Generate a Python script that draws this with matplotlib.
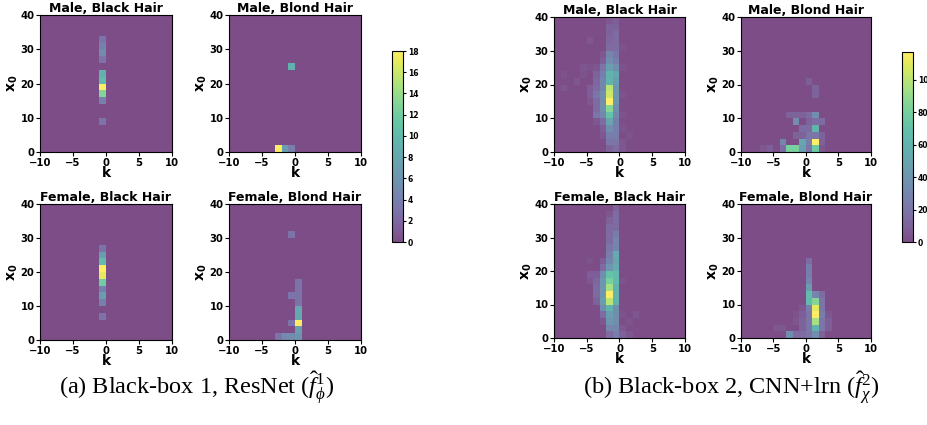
import numpy as np
import matplotlib
matplotlib.use("Agg")
import matplotlib.pyplot as plt

plt.rcParams["font.family"] = "DejaVu Sans"
plt.rcParams["font.weight"] = "bold"
plt.rcParams["axes.titleweight"] = "bold"
plt.rcParams["axes.labelweight"] = "bold"
# serif math for the captions, bold sans for the x0 label
plt.rcParams["mathtext.fontset"] = "custom"
plt.rcParams["mathtext.rm"] = "Liberation Serif:weight=normal"
plt.rcParams["mathtext.it"] = "Liberation Serif:style=italic:weight=normal"
plt.rcParams["mathtext.bf"] = "DejaVu Sans:weight=bold"

# histogram bins
k_edges = np.arange(-10, 11, 1)
x0_edges = np.arange(0, 42, 2)

# counts: key = left edge of k bin, list = counts for x0 bins 0-2, 2-4, ..., 38-40
a_male_black = {
    -1: [0, 0, 0, 0, 3, 0, 0, 4, 13, 18, 10, 9, 0, 3, 5, 4, 3, 0, 0, 0],
}
a_male_blond = {
    -3: [18, 0, 0, 0, 0, 0, 0, 0, 0, 0, 0, 0, 0, 0, 0, 0, 0, 0, 0, 0],
    -2: [7, 0, 0, 0, 0, 0, 0, 0, 0, 0, 0, 0, 0, 0, 0, 0, 0, 0, 0, 0],
    -1: [4, 0, 0, 0, 0, 0, 0, 0, 0, 0, 0, 0, 9, 0, 0, 0, 0, 0, 0, 0],
}
a_female_black = {
    -1: [0, 0, 0, 3, 0, 4, 7, 4, 12, 17, 18, 10, 7, 3, 0, 0, 0, 0, 0, 0],
}
a_female_blond = {
    -3: [3, 0, 0, 0, 0, 0, 0, 0, 0, 0, 0, 0, 0, 0, 0, 0, 0, 0, 0, 0],
    -2: [5, 0, 0, 0, 0, 0, 0, 0, 0, 0, 0, 0, 0, 0, 0, 0, 0, 0, 0, 0],
    -1: [5, 0, 3, 0, 0, 0, 3, 0, 0, 0, 0, 0, 0, 0, 0, 3, 0, 0, 0, 0],
    0: [6, 7, 18, 8, 8, 3, 3, 3, 3, 0, 0, 0, 0, 0, 0, 0, 0, 0, 0, 0],
}

b_male_black = {
    -9: [0, 0, 0, 0, 0, 0, 0, 0, 0, 5, 0, 3, 0, 0, 0, 0, 0, 0, 0, 0],
    -7: [0, 0, 0, 0, 0, 0, 0, 0, 0, 0, 5, 0, 0, 0, 0, 0, 0, 0, 0, 0],
    -6: [0, 0, 0, 0, 0, 0, 0, 0, 0, 0, 0, 3, 4, 0, 0, 0, 0, 0, 0, 0],
    -5: [0, 0, 0, 0, 0, 0, 0, 5, 8, 8, 0, 0, 3, 0, 0, 0, 5, 0, 0, 0],
    -4: [0, 0, 0, 0, 5, 20, 15, 15, 20, 15, 12, 10, 5, 0, 0, 0, 0, 0, 0, 0],
    -3: [0, 0, 5, 8, 15, 30, 35, 35, 35, 30, 30, 25, 20, 8, 5, 0, 0, 0, 0, 0],
    -2: [10, 20, 25, 35, 50, 70, 85, 117, 105, 100, 60, 60, 45, 35, 30, 15, 12, 10, 10, 5],
    -1: [15, 20, 25, 25, 25, 30, 35, 40, 40, 40, 45, 50, 35, 25, 20, 15, 15, 15, 10, 8],
    0: [5, 5, 0, 3, 0, 3, 0, 0, 3, 0, 0, 0, 3, 0, 0, 3, 0, 0, 0, 0],
    1: [0, 0, 3, 0, 0, 0, 0, 0, 0, 0, 0, 0, 0, 0, 0, 0, 0, 0, 0, 0],
}
b_male_blond = {
    -7: [5, 0, 0, 0, 0, 0, 0, 0, 0, 0, 0, 0, 0, 0, 0, 0, 0, 0, 0, 0],
    -6: [8, 0, 0, 0, 0, 0, 0, 0, 0, 0, 0, 0, 0, 0, 0, 0, 0, 0, 0, 0],
    -4: [15, 30, 0, 0, 0, 0, 0, 0, 0, 0, 0, 0, 0, 0, 0, 0, 0, 0, 0, 0],
    -3: [80, 0, 0, 0, 0, 10, 0, 0, 0, 0, 0, 0, 0, 0, 0, 0, 0, 0, 0, 0],
    -2: [80, 0, 10, 0, 35, 10, 0, 0, 0, 0, 0, 0, 0, 0, 0, 0, 0, 0, 0, 0],
    -1: [45, 50, 10, 15, 0, 10, 0, 0, 0, 0, 0, 0, 0, 0, 0, 0, 0, 0, 0, 0],
    0: [20, 25, 20, 15, 10, 15, 0, 0, 0, 0, 8, 0, 0, 0, 0, 0, 0, 0, 0, 0],
    1: [75, 117, 20, 60, 15, 35, 0, 0, 10, 10, 0, 0, 0, 0, 0, 0, 0, 0, 0, 0],
    2: [5, 10, 10, 0, 15, 0, 0, 0, 0, 0, 0, 0, 0, 0, 0, 0, 0, 0, 0, 0],
}
b_female_black = {
    -5: [0, 0, 0, 0, 0, 0, 0, 0, 5, 8, 0, 3, 0, 0, 0, 0, 0, 0, 0, 0],
    -4: [0, 0, 0, 0, 0, 10, 15, 15, 12, 8, 0, 0, 0, 0, 0, 0, 0, 0, 0, 0],
    -3: [0, 0, 5, 15, 35, 45, 40, 40, 40, 35, 15, 8, 0, 0, 0, 0, 0, 0, 0, 0],
    -2: [15, 30, 40, 45, 60, 100, 117, 95, 80, 70, 40, 30, 25, 20, 15, 15, 15, 10, 5, 0],
    -1: [25, 30, 35, 35, 35, 60, 60, 60, 65, 65, 55, 50, 55, 30, 30, 25, 15, 15, 15, 10],
    0: [10, 5, 0, 3, 0, 0, 0, 0, 3, 0, 0, 0, 0, 0, 0, 0, 0, 0, 0, 0],
    1: [5, 0, 3, 0, 0, 0, 0, 0, 0, 0, 0, 0, 0, 0, 0, 0, 0, 0, 0, 0],
    2: [0, 0, 0, 5, 0, 0, 0, 0, 0, 0, 0, 0, 0, 0, 0, 0, 0, 0, 0, 0],
}
b_female_blond = {
    -5: [0, 5, 0, 0, 0, 0, 0, 0, 0, 0, 0, 0, 0, 0, 0, 0, 0, 0, 0, 0],
    -4: [0, 5, 0, 0, 0, 0, 0, 0, 0, 0, 0, 0, 0, 0, 0, 0, 0, 0, 0, 0],
    -3: [35, 0, 0, 0, 0, 0, 0, 0, 0, 0, 0, 0, 0, 0, 0, 0, 0, 0, 0, 0],
    -2: [15, 0, 5, 3, 0, 0, 0, 0, 0, 0, 0, 0, 0, 0, 0, 0, 0, 0, 0, 0],
    -1: [15, 10, 10, 8, 5, 0, 0, 0, 0, 0, 0, 0, 0, 0, 0, 0, 0, 0, 0, 0],
    0: [20, 20, 20, 20, 25, 65, 65, 45, 30, 25, 25, 15, 0, 0, 0, 0, 0, 0, 0, 0],
    1: [35, 60, 95, 117, 110, 85, 30, 0, 0, 0, 0, 0, 0, 0, 0, 0, 0, 0, 0, 0],
    2: [10, 20, 20, 25, 20, 20, 15, 0, 0, 0, 0, 0, 0, 0, 0, 0, 0, 0, 0, 0],
    3: [0, 8, 8, 5, 0, 0, 0, 0, 0, 0, 0, 0, 0, 0, 0, 0, 0, 0, 0, 0],
}

titles = ["Male, Black Hair", "Male, Blond Hair", "Female, Black Hair", "Female, Blond Hair"]
group_a = [a_male_black, a_male_blond, a_female_black, a_female_blond]
group_b = [b_male_black, b_male_blond, b_female_black, b_female_blond]
vmax_a = 18
vmax_b = 117
caption_a = r"(a) Black-box 1, ResNet ($\hat{f}^{1}_{\phi}$)"
caption_b = r"(b) Black-box 2, CNN+lrn ($\hat{f}^{2}_{\chi}$)"

W, H = 928, 425
fig = plt.figure(figsize=(W / 100, H / 100), dpi=100)


def px_axes(x0, x1, y0, y1):
    # pixel box (top-left origin) -> figure axes
    return fig.add_axes([x0 / W, 1 - y1 / H, (x1 - x0) / W, (y1 - y0) / H])


def draw_panel(ax, counts, title, vmax):
    ks, xs, ws = [], [], []
    for k_left, col in counts.items():
        for j, c in enumerate(col):
            ks.append(k_left + 0.5)
            xs.append(x0_edges[j] + 1)
            ws.append(c)
    _, _, _, mesh = ax.hist2d(ks, xs, bins=[k_edges, x0_edges], weights=ws,
                              cmap="viridis", alpha=0.7, vmin=0, vmax=vmax)
    ax.set_xlim(-10, 10)
    ax.set_ylim(0, 40)
    ax.set_xticks([-10, -5, 0, 5, 10])
    ax.set_yticks([0, 10, 20, 30, 40])
    ax.tick_params(labelsize=7.2, length=3, pad=1)
    ax.set_title(title, fontsize=9, pad=2)
    ax.set_xlabel("k", fontsize=10, labelpad=-1)
    ax.set_ylabel(r"$\mathbf{x_0}$", fontsize=10, labelpad=0)
    return mesh


boxes_a = [(40, 172, 15, 152), (229, 361, 15, 152), (40, 172, 204, 340), (229, 361, 204, 340)]
boxes_b = [(554, 685, 17, 152), (741, 871, 17, 152), (554, 685, 204, 338), (741, 871, 204, 338)]

for boxes, group, vmax, cbox in [(boxes_a, group_a, vmax_a, (392, 403, 51, 242)),
                                 (boxes_b, group_b, vmax_b, (902, 913, 52, 242))]:
    mesh = None
    for box, counts, title in zip(boxes, group, titles):
        ax = px_axes(*box)
        mesh = draw_panel(ax, counts, title, vmax)
    cax = px_axes(*cbox)
    cb = fig.colorbar(mesh, cax=cax)
    if vmax == vmax_a:
        cb.set_ticks(np.arange(0, 19, 2))
    else:
        cb.set_ticks(np.arange(0, 101, 20))
    cb.ax.tick_params(labelsize=5.5, length=2.5, pad=1)

fig.text(197 / W, 1 - 388 / H, caption_a, ha="center", va="center",
         fontsize=17.5, fontfamily="Liberation Serif", fontweight="normal")
fig.text(731 / W, 1 - 388 / H, caption_b, ha="center", va="center",
         fontsize=17.5, fontfamily="Liberation Serif", fontweight="normal")

fig.savefig("out.png", dpi=100)
